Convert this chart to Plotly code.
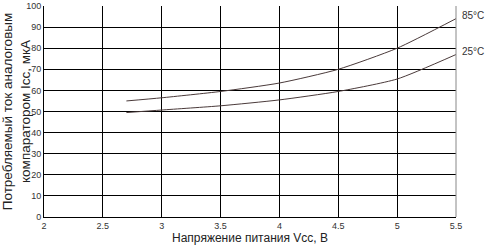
import plotly.graph_objects as go

vcc = [2.7, 3.0, 3.5, 4.0, 4.5, 5.0, 5.5]
icc_85 = [55.0, 56.5, 59.5, 63.5, 70.0, 80.0, 94.0]
icc_25 = [49.5, 50.7, 52.7, 55.5, 59.5, 65.4, 77.0]
series_names = ["85°C", "25°C"]
x_ticks = [2, 2.5, 3, 3.5, 4, 4.5, 5, 5.5]
x_tick_labels = ["2", "2.5", "3", "3.5", "4", "4.5", "5", "5.5"]
y_ticks = list(range(0, 101, 10))

fig = go.Figure()
for name, ys in zip(series_names, [icc_85, icc_25]):
    fig.add_trace(go.Scatter(x=vcc, y=ys, mode="lines", name=name,
                             line=dict(color="#4a3a3a", width=1, shape="spline", smoothing=0.6)))
    fig.add_annotation(x=vcc[-1], y=ys[-1], text=name, showarrow=False,
                       xanchor="left", yanchor="bottom", xshift=4, yshift=-4,
                       font=dict(family="Arial, Liberation Sans", size=10, color="#333"))

fig.add_shape(type="line", xref="paper", yref="paper", x0=1, x1=1, y0=0, y1=1,
              line=dict(color="#888", width=1))

fig.update_layout(
    width=485, height=251,
    margin=dict(l=44, r=29, t=6, b=34, autoexpand=False),
    paper_bgcolor="white", plot_bgcolor="white",
    showlegend=False,
    font=dict(family="Arial, Liberation Sans", color="#222"),
)
fig.update_xaxes(range=[2, 5.5], tickvals=x_ticks, ticktext=x_tick_labels,
                 showgrid=True, gridcolor="black", gridwidth=1,
                 showline=True, linecolor="black", linewidth=1, automargin=False,
                 zeroline=False, ticks="", tickfont=dict(size=9, color="#333"),
                 title=dict(text="Напряжение питания Vcc, В", font=dict(size=12, color="#222"), standoff=2))
fig.update_yaxes(range=[0, 100], tickvals=y_ticks,
                 showgrid=True, gridcolor="black", gridwidth=1,
                 showline=True, linecolor="black", linewidth=1, automargin=False,
                 zeroline=False, ticks="", tickfont=dict(size=9, color="#333"),
                 title=dict(text="Потребляемый ток аналоговым<br>компаратором Icc, мкА",
                            font=dict(size=13.5, color="#222"), standoff=3))

fig.write_html("out.html")
